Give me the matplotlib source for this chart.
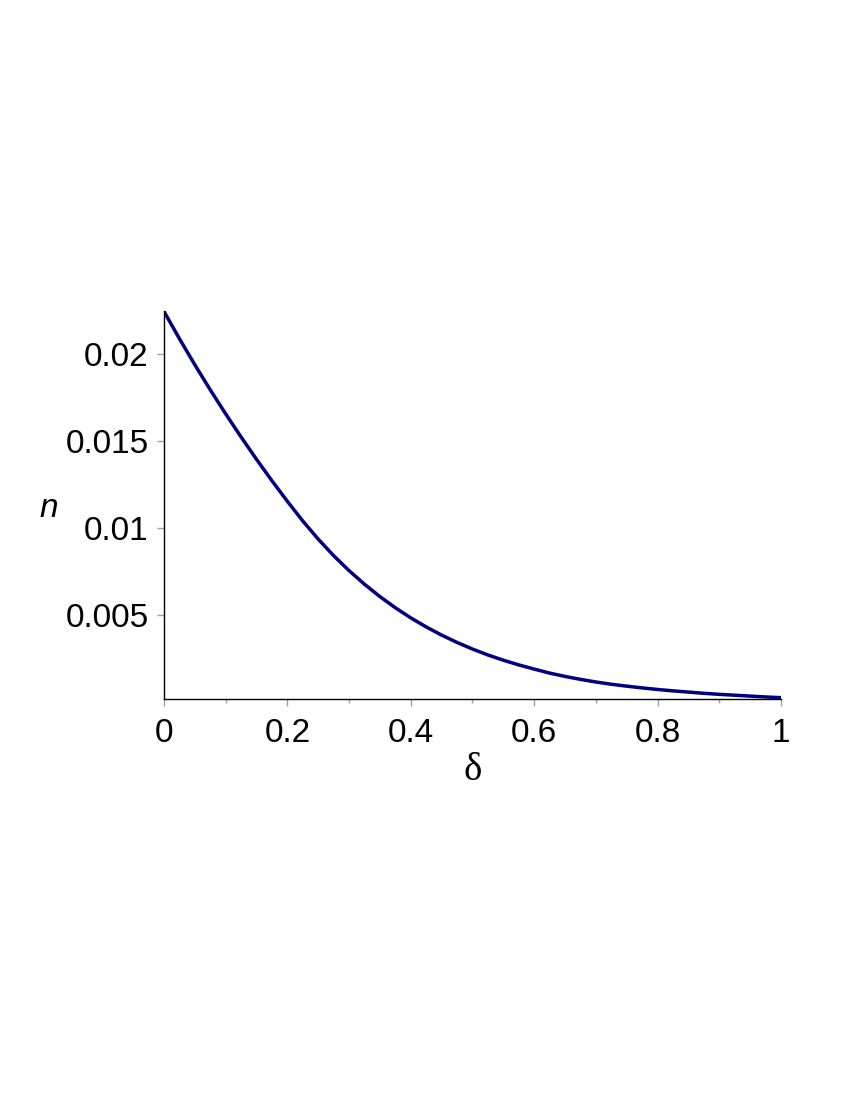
import matplotlib
matplotlib.use("Agg")
import matplotlib.pyplot as plt
from matplotlib.ticker import MultipleLocator, FixedLocator

delta = [0.0, 0.025, 0.05, 0.075, 0.10, 0.125, 0.15, 0.175, 0.20, 0.225,
         0.25, 0.275, 0.30, 0.325, 0.35, 0.375, 0.40, 0.425, 0.45, 0.475,
         0.50, 0.525, 0.55, 0.575, 0.60, 0.625, 0.65, 0.675, 0.70, 0.725,
         0.75, 0.775, 0.80, 0.825, 0.85, 0.875, 0.90, 0.925, 0.95, 0.975, 1.00]
n_vals = [0.02243, 0.02087, 0.01937, 0.01793, 0.01655, 0.01522, 0.01394,
          0.01271, 0.01153, 0.01040, 0.00936, 0.00841, 0.00755, 0.00677,
          0.00606, 0.00542, 0.00484, 0.00432, 0.00385, 0.00343, 0.00305,
          0.00271, 0.00241, 0.00214, 0.0019, 0.00167, 0.00148, 0.00131,
          0.00116, 0.00103, 0.00092, 0.00082, 0.00073, 0.00065, 0.00058,
          0.00051, 0.00045, 0.00040, 0.00035, 0.00030, 0.00026]
x_ticks = [0, 0.2, 0.4, 0.6, 0.8, 1]
x_tick_labels = ["0", "0.2", "0.4", "0.6", "0.8", "1"]
y_ticks = [0.005, 0.01, 0.015, 0.02]
y_tick_labels = ["0.005", "0.01", "0.015", "0.02"]

fig = plt.figure(figsize=(8.5, 11), dpi=100)
ax = fig.add_axes([0.1929, 0.3645, 0.7259, 0.3527])
ax.plot(delta, n_vals, color="#000080", lw=2.5, solid_capstyle="butt",
        solid_joinstyle="round")
ax.set_xlim(0, 1)
ax.set_ylim(0.00018, 0.02245)

for s in ["top", "right"]:
    ax.spines[s].set_visible(False)
for s in ["left", "bottom"]:
    ax.spines[s].set_color("black")
    ax.spines[s].set_linewidth(1.0)

ax.xaxis.set_major_locator(FixedLocator(x_ticks))
ax.set_xticklabels(x_tick_labels)
ax.xaxis.set_minor_locator(MultipleLocator(0.1))
ax.yaxis.set_major_locator(FixedLocator(y_ticks))
ax.set_yticklabels(y_tick_labels)

ax.tick_params(axis="both", which="major", direction="out", length=5, width=1,
               color="#a0a0a0", labelsize=24)
ax.tick_params(axis="x", which="major", pad=9)
ax.tick_params(axis="y", which="major", pad=6)
ax.tick_params(axis="x", which="minor", direction="out", length=3, width=1,
               color="#a0a0a0")
for lab in ax.get_xticklabels() + ax.get_yticklabels():
    lab.set_family("Liberation Sans")

ax.set_xlabel("δ", fontsize=28, family="Liberation Serif", labelpad=2)
ax.set_ylabel("n", fontsize=24, family="Liberation Sans", style="italic",
              rotation=0, labelpad=0, va="center", ha="center")
ax.yaxis.set_label_coords(-0.187, 0.49)

fig.savefig("out.png", dpi=100)
